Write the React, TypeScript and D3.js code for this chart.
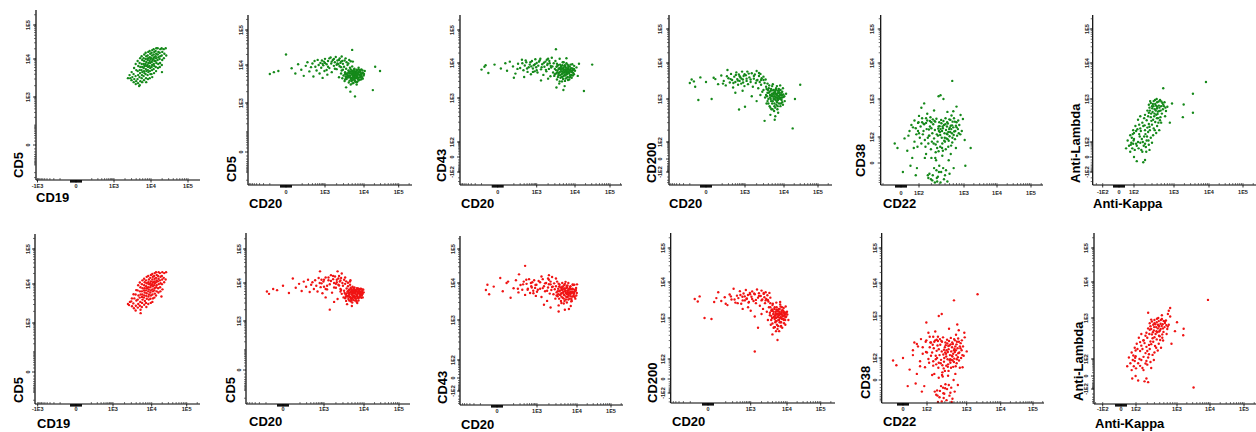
import React from "react";
import * as d3 from "d3";

// axis tick values and the labels printed under them
const ticksA = [-1000, 0, 1000, 10000, 100000];
const labelsA = ["-1E3", "0", "1E3", "1E4", "1E5"];
const ticksB = [0, 1000, 10000, 100000];
const labelsB = ["0", "1E3", "1E4", "1E5"];
const ticksC = [-100, 0, 100, 1000, 10000, 100000];
const labelsC = ["-1E2", "0", "1E2", "1E3", "1E4", "1E5"];
const ticksD = [0, 100, 1000, 10000, 100000];
const labelsD = ["0", "1E2", "1E3", "1E4", "1E5"];

// events, [x, y] fluorescence, top row (green)
const cd19Cd5Green = [
  [2650,3790],[2780,3160],[3020,4550],[3150,3360],[3000,2800],[3520,5800],[3400,4030],[3560,2980],[3430,2480],
  [3880,7390],[4020,5130],[3850,3570],[3990,2630],[3900,2200],[4380,8860],[4560,6550],[4400,4830],[4520,3790],[4350,2980],[4480,2330],
  [5120,10600],[4950,7850],[5150,6160],[4980,5130],[5080,4280],[4920,3360],[5180,2630],[5000,2070],
  [5600,12000],[5820,9420],[5650,7390],[5790,6160],[5580,5130],[5850,4550],[5700,3790],[5620,3160],[5800,2480],
  [6600,13500],[6350,10600],[6550,8860],[6400,7390],[6620,6550],[6380,5800],[6500,4830],[6650,4280],[6330,3570],[6480,2800],
  [7200,15300],[7450,12000],[7250,10000],[7480,8350],[7150,7390],[7400,6550],[7280,5450],[7500,4830],[7180,4030],[7350,3160],[7430,2480],
  [8450,16200],[8150,12700],[8380,10600],[8200,9420],[8500,7850],[8100,6950],[8350,6160],[8250,5130],[8480,4550],[8120,3790],[8300,2980],
  [9200,17300],[9550,14300],[9300,11300],[9600,10000],[9250,8860],[9480,7850],[9150,6550],[9520,5800],[9350,4830],[9600,4030],[9250,3160],
  [10800,18300],[10400,15300],[10700,12700],[10350,10600],[10850,9420],[10500,8350],[10750,6950],[10420,6160],[10650,5130],[10350,4030],[10800,3360],
  [11800,19500],[12250,16200],[11850,13500],[12150,11300],[11750,10000],[12300,8860],[11900,7390],[12200,6550],[11800,5450],[12100,4280],
  [13900,20700],[13300,17300],[13800,14300],[13400,12000],[13750,10600],[13350,8860],[13950,7850],[13500,6160],[13700,4830],
  [15200,20700],[15800,16200],[15300,13500],[15900,11300],[15100,9420],[15700,7390],[15400,5800],
  [17900,19500],[17200,15300],[17800,12000],[17100,10000],[17600,7850],[17300,6160],
  [19400,20700],[20200,16200],[19500,12700],[20100,9420],[19600,6950],
  [22000,19500],[23000,14300],[22300,10600],[25000,20700],[25800,12700],
  [2400,3160],[4800,1950],[19800,4550],
];
const cd20Cd5Green = [
  [-100,5800],[-60,6500],[-30,7000],[0,20000],[20,8200],[40,6000],[60,10500],[90,7500],[120,5200],[150,9500],
  [180,12000],[220,6800],[260,8800],[300,11000],[330,5000],[370,13000],[400,9000],[450,7200],[500,14000],[550,10000],
  [600,6000],[650,11500],[700,8500],[750,13500],[800,4600],[850,9800],[900,12500],[950,7000],[1000,15000],[1100,10500],
  [1150,5600],[1200,13000],[1300,8300],[1400,16500],[1450,11000],[1500,6500],[1600,14000],[1700,9500],[1800,12000],[1900,17000],
  [2000,7800],[2100,13500],[2200,10500],[2300,4800],[2400,15500],[2500,11500],[2600,8800],[2700,17500],[2800,13000],[2600,6000],
  [2800,4500],[2900,7500],[3000,5300],[3100,9000],[3200,3800],[3300,6500],[3400,5000],[3500,8000],[3600,4300],[3700,6000],
  [3800,10000],[3900,5400],[4000,7200],[4100,3500],[4200,4800],[4300,6400],[4400,8500],[4500,5200],[4600,3100],[4700,6800],
  [4800,4500],[4900,5800],[5000,9200],[5100,4000],[5200,7000],[5300,5500],[5400,3400],[5500,6200],[5600,4800],[5700,8000],
  [5800,5100],[5900,3800],[6000,6600],[6200,4500],[6400,7500],[6500,5400],[6700,3600],[6900,6000],[7100,4700],[7300,8500],
  [7500,5600],[7800,4100],[8000,6800],[8300,5000],[8600,7600],[9000,4600],[9400,6200],[9800,5300],[10500,7000],[3500,2600],
  [4500,2000],[5200,12500],[4200,14000],[21000,9000],[29000,7000],[18000,2200],[5900,1500],[5000,27000],
  [4100,5100],[4400,6000],[4700,4300],[5000,5600],[5300,6600],[5600,4200],[5900,5500],[6200,6100],[6600,4900],[7000,5800],
  [4300,3900],[4800,6900],[5500,7600],[6300,3600],[6800,7200],[7600,6400],[8200,5600],[8800,6000],[3600,5600],[3900,4700],
  [4600,7700],[5200,4600],[5800,6900],[6500,3100],[7200,3900],[7900,7400],[8500,4200],[9200,7200],[10000,5800],[3300,4200],
  [1200,9000],[1500,12500],[1800,8000],[2100,11000],[2400,9300],[2700,7200],[1000,11500],[1300,15500],[1700,14800],[2000,10200],
  [2300,14000],[2600,12500],[2900,10800],[3200,13500],[3600,12000],[4000,11000],[4600,12800],[3400,15500],[1100,7400],[800,10800],
  [3300,5800],[3700,4900],[4000,6300],[4300,5300],[4600,4600],[4900,6100],[5200,5000],[5500,5800],[5800,4400],[6100,5900],
  [6400,6800],[6700,5200],[7000,4300],[7400,6600],[7800,5300],[8200,6300],[8700,5100],[3500,4600],[4200,6800],[4800,3800],
  [5400,7000],[6000,3700],[6600,6300],[7200,7600],[7900,4700],[8600,5800],[9300,4400],[5100,3300],[5700,6400],[6300,4700],
];
const cd20Cd43Green = [
  [-100,6500],[-70,7800],[-40,5200],[-10,9000],[10,7000],[40,6000],[60,11000],[90,8000],[120,5000],[160,9500],
  [200,7200],[240,12500],[280,6200],[320,8500],[370,10500],[420,5600],[470,7600],[520,9000],[580,4800],[640,11500],
  [700,7000],[760,8600],[820,5800],[880,13000],[100,3800],[300,4000],[950,7600],[1000,10000],[1050,5400],[1100,8400],
  [1200,12000],[1300,6600],[1400,9200],[1500,4600],[1600,7800],[1700,11000],[1800,5800],[1900,8800],[2000,13500],[2100,6800],
  [2200,9800],[2300,4200],[2400,7400],[2500,14500],[1300,3200],[2000,3600],[2600,8000],[2700,5400],[2800,9800],[2900,4300],
  [3000,6800],[3100,11500],[3200,5000],[3300,7800],[3400,3400],[3500,6000],[3600,8800],[3700,4600],[3800,7000],[3900,2600],
  [4000,5500],[4100,9000],[4200,3800],[4300,6400],[4400,7800],[4500,4800],[4600,3000],[4700,5800],[4800,10500],[4900,6900],
  [5000,4200],[5200,5300],[5300,8200],[5400,2200],[5600,6300],[5700,3600],[5800,7300],[6000,4700],[6200,5800],[6400,9000],
  [6600,3300],[6800,6700],[7000,5000],[7300,7900],[7600,4100],[7900,6000],[8200,3800],[8600,7000],[9000,5200],[9500,8300],
  [10000,6000],[11000,7500],[3300,2000],[5000,1700],[6000,14000],[4000,13500],[31000,9000],[18000,1600],[3200,26000],[12000,4300],
  [13000,9500],
  [3200,6300],[3500,8200],[3800,5200],[4100,7200],[4400,5800],[4700,8600],[5000,6300],[5300,4600],[5600,7800],[5900,5200],
  [6200,6600],[6500,4000],[6800,8400],[7200,5500],[7600,6800],[8000,4600],[8500,9200],[9000,6500],[3000,4800],[3400,9500],
  [4000,3000],[4600,4000],[5100,10500],[5500,3100],[6000,9800],[6600,5600],[7100,3400],[7700,9000],[8300,5800],[9400,4800],
  [150,6800],[250,9800],[400,7000],[550,10500],[700,5600],[850,9200],[1000,6200],[1150,11000],[1350,7600],[1550,10200],
  [1750,6400],[1950,9600],[2150,11500],[2350,8200],[600,8000],[-60,8600],[30,9800],[350,12000],[1250,13500],[1850,12500],
  [3400,5300],[3800,6600],[4100,4500],[4400,6900],[4700,5100],[5000,7400],[5300,5700],[5600,4400],[5900,6400],[6200,4900],
  [6500,7000],[6800,5300],[7100,6100],[7500,4500],[7900,7100],[8400,5500],[8900,6300],[3600,4000],[4300,8200],[4900,3500],
  [5500,8600],[6100,3800],[6700,7700],[7300,3900],[8000,5900],[8800,4400],[9400,6800],[5200,6600],[5800,5700],[6400,5900],
];
const cd20Cd200Green = [
  [-100,2800],[-80,3500],[-50,2200],[-20,4000],[0,3000],[20,1000],[-30,950],[40,3600],[60,2600],[90,4500],
  [120,3200],[150,2400],[180,6400],[200,3800],[230,2900],[260,5000],[290,3400],[320,2100],[360,4200],[400,3000],
  [440,5500],[480,3600],[520,2500],[560,4800],[600,3200],[650,4000],[700,2700],[760,5800],[820,3500],[880,4400],
  [950,2300],[570,590],[1000,680],[400,1500],[800,1700],[1050,4600],[1100,3200],[1150,5800],[1200,2600],[1300,4000],
  [1400,3000],[1500,5200],[1600,2200],[1700,3700],[1800,4800],[1900,2800],[2000,6000],[2100,3400],[2200,2000],[2300,4400],
  [2400,3000],[2500,5000],[2600,2500],[2700,3800],[2800,1600],[3000,4200],[3200,2800],[3400,3500],[1500,1200],[2000,900],
  [2500,1300],[3000,1800],[3300,1100],[3500,2200],[3600,800],[3800,1500],[4000,1000],[4100,2000],[4300,700],[4400,1300],
  [4600,1700],[4700,900],[4900,1200],[5000,2300],[5100,600],[5300,1400],[5400,1000],[5500,1800],[5700,800],[5800,1200],
  [5900,1500],[6000,650],[6200,1100],[6300,2000],[6500,900],[6600,1400],[6800,1000],[7000,1700],[7100,500],[7300,1200],
  [7500,800],[7700,1500],[7900,1050],[8100,700],[8400,1300],[8700,950],[9000,1600],[9400,750],[9800,1150],[10500,900],
  [11500,1400],[4500,450],[6000,420],[3200,330],[5800,350],[3800,2700],[8000,2400],[18000,220],[30000,2500],[21000,1000],
  [3500,1300],[3800,900],[4100,1500],[4400,1100],[4700,1900],[5000,800],[5200,1200],[5500,1500],[5800,1000],[6100,1700],
  [6400,750],[6700,1250],[7000,950],[7300,1500],[7600,1100],[8000,1350],[8500,1100],[9000,850],[9600,1350],[10200,1200],
  [4800,600],[5600,550],[6800,600],[8200,1800],[4200,2400],[5200,2600],[6600,2300],[7400,1900],[9400,2000],[3600,1900],
  [-60,3100],[30,3900],[110,2700],[170,4300],[250,3600],[330,2800],[420,4700],[510,3300],[610,4300],[720,3700],
  [840,2900],[960,4900],[1100,3700],[1250,5100],[1400,3500],[1700,4400],[2000,3300],[2300,5300],[2600,3400],[3000,3400],
  [3700,1200],[4000,800],[4300,1600],[4600,1000],[4900,1400],[5200,900],[5500,1150],[5800,1600],[6100,950],[6400,1300],
  [6700,850],[7000,1450],[7300,1000],[7700,1250],[8100,1000],[8600,1500],[9100,1100],[3900,1800],[4500,650],[5100,1750],
  [5700,700],[6300,1850],[6900,700],[7500,1700],[8300,800],[9000,1300],[4700,1250],[5400,1350],[6000,1400],[6600,1100],
];
const cd22Cd38Green = [
  [150,250],[200,180],[260,320],[310,140],[380,220],[450,120],[520,300],[600,190],[700,260],[180,110],
  [230,90],[290,200],[340,95],[420,160],[480,75],[560,130],[650,85],[750,170],[130,150],[170,60],
  [210,130],[250,55],[300,260],[360,180],[400,70],[460,240],[540,50],[620,330],[720,110],[800,220],
  [140,80],[190,350],[240,160],[280,110],[330,300],[390,130],[440,200],[500,105],[580,270],[660,150],
  [110,200],[160,290],[220,230],[270,40],[320,170],[370,280],[430,90],[490,170],[550,390],[610,115],
  [680,210],[780,130],[125,120],[205,70],[245,270],[295,150],[350,60],[410,330],[470,140],[530,210],
  [150,20],[200,10],[250,25],[300,-5],[350,15],[420,-15],[480,5],[180,-25],[230,-10],[280,-35],
  [330,-20],[380,-45],[270,-55],[210,-50],[320,-60],[400,-30],[450,-55],[260,-15],[360,30],[500,-25],
  [170,-40],[240,-60],[290,28],[530,20],[-20,60],[-10,40],[10,90],[20,30],[30,150],[45,10],
  [60,70],[75,120],[85,45],[50,190],[5,-20],[95,260],[70,-30],[570,3200],[290,1200],[320,1270],
  [370,1000],[115,610],[135,780],[700,650],[950,316],[1600,40],[1100,-5],[900,150],[1050,80],[850,400],
  [600,500],[450,480],[230,520],[160,430],[100,380],
  [135,230],[175,165],[215,310],[265,120],[305,205],[345,150],[395,95],[445,260],[505,185],[565,215],
  [625,145],[705,190],[165,95],[225,60],[285,175],[335,245],[385,75],[435,125],[495,310],[545,170],
  [185,200],[235,280],[275,70],[315,115],[355,200],[405,230],[455,85],[515,140],[575,95],[645,270],
  [195,35],[245,10],[295,-20],[345,40],[265,-40],[315,45],[215,-30],[365,-10],[415,35],[255,5],
  [120,260],[145,45],[105,95],[90,150],[760,290],[840,120],[570,65],[680,40],[610,-10],[470,45],
  [25,110],[40,220],[55,40],[70,180],[80,-10],[100,130],[115,60],[130,240],[140,10],[155,170],
  [165,-30],[175,110],[185,280],[195,-45],[120,330],[60,290],[35,-5],[90,250],[150,330],[200,260],
];
const kappaLambdaGreen = [
  [250,500],[300,700],[350,600],[400,850],[280,400],[450,550],[330,900],[380,450],[500,700],[260,650],
  [420,380],[310,520],[360,780],[470,950],[290,330],[550,600],[340,420],[400,680],[230,560],[520,480],
  [280,820],[430,300],[370,560],[600,850],[320,350],[480,400],[250,750],[390,1000],[560,750],[200,450],
  [650,550],[300,270],[440,720],[360,310],[700,680],[220,340],[500,300],[410,470],[270,900],[620,420],
  [60,150],[100,120],[150,90],[200,200],[120,60],[180,250],[90,200],[140,160],[220,110],[250,70],
  [80,40],[160,30],[110,250],[190,140],[130,100],[210,50],[70,90],[240,180],[170,20],[100,0],
  [50,60],[150,220],[280,130],[300,90],[40,110],[200,-10],[230,230],[120,-15],[260,30],[180,-20],
  [350,200],[90,80],[140,270],[60,20],[320,150],[200,80],[400,250],[30,40],[100,170],[250,280],
  [170,300],[130,350],[260,240],[330,220],[190,380],[450,200],[380,170],[150,420],[560,2000],[8200,3000],
  [3500,1400],[3500,500],[1800,400],[1900,760],[900,800],[800,300],
  [265,560],[315,780],[345,480],[395,620],[435,880],[485,560],[535,820],[305,630],[375,720],[415,530],
  [455,650],[505,880],[285,480],[355,950],[325,700],[580,700],[240,420],[470,340],[395,380],[630,650],
  [75,130],[115,190],[165,120],[205,160],[135,40],[185,60],[95,110],[155,190],[225,140],[105,30],
  [65,70],[175,100],[265,200],[125,210],[215,20],[145,140],[85,160],[245,110],[195,260],[115,80],
];

// bottom row (red)
const cd19Cd5Red = [
  [2750,3500],[2620,2900],[3100,4300],[2980,3600],[3120,2700],[3420,5500],[3580,4300],[3380,3200],[3500,2400],
  [4000,7000],[3860,5400],[4050,3800],[3920,2800],[3870,2100],[4500,9300],[4330,6900],[4560,5100],[4380,4000],[4520,3100],[4400,2500],
  [4960,11000],[5150,8300],[4990,6500],[5200,5400],[4930,4500],[5100,3500],[4970,2800],[5170,2200],
  [5780,12700],[5620,9900],[5830,7800],[5600,6500],[5760,5400],[5640,4700],[5820,4000],[5680,3300],[5590,2600],
  [6380,14200],[6620,11200],[6420,9300],[6580,7800],[6350,6900],[6600,6100],[6450,5100],[6300,4500],[6680,3700],[6430,2950],
  [7450,16000],[7150,12700],[7420,10500],[7200,8800],[7500,7800],[7180,6900],[7380,5800],[7240,5000],[7470,4200],[7160,3300],[7300,2600],
  [8150,17000],[8480,13400],[8200,11200],[8450,9900],[8130,8300],[8400,7300],[8180,6500],[8500,5400],[8250,4800],[8420,4000],[8160,3100],
  [9550,18200],[9200,15000],[9500,11900],[9250,10500],[9580,9300],[9180,8300],[9450,6900],[9220,6100],[9530,5100],[9280,4200],[9450,3300],
  [10400,19300],[10800,16100],[10450,13400],[10850,11200],[10380,9900],[10700,8800],[10420,7300],[10780,6500],[10500,5400],[10820,4300],[10450,3500],
  [12200,20500],[11750,17000],[12150,14200],[11850,11900],[12250,10500],[11800,9300],[12100,7800],[11850,6900],[12300,5700],[11900,4500],
  [13300,21800],[13900,18200],[13400,15000],[13850,12700],[13350,11200],[13800,9300],[13450,8300],[13900,6500],[13300,5100],
  [15800,21800],[15200,17000],[15700,14200],[15100,11900],[15800,9900],[15300,7800],[15600,6100],
  [17200,20500],[17800,16100],[17300,12700],[17900,10500],[17400,8300],[17700,6500],
  [20100,21800],[19500,17000],[20000,13400],[19600,9900],[20300,7300],
  [22800,20500],[22100,15000],[22700,11200],[25800,21800],[25000,13400],
  [2450,3100],[5200,1800],[19000,4800],
];
const cd20Cd5Red = [
  [-90,6000],[-70,5200],[-40,7000],[-20,6500],[0,8500],[20,5500],[40,13500],[60,7500],[90,9500],[120,6200],
  [150,11000],[190,8000],[230,12500],[270,5800],[310,9000],[350,10500],[400,7000],[450,12000],[500,8500],[560,6000],
  [620,14000],[680,10000],[740,7800],[800,12500],[870,5400],[700,22000],[950,11000],[1000,8000],[1100,14500],[1200,6800],
  [1300,12000],[1400,9300],[1500,17000],[1600,5600],[1700,13000],[1800,10000],[1900,15500],[2000,7500],[2100,12500],[2200,22000],
  [2300,9000],[2400,16000],[2500,11000],[2600,6000],[2700,14000],[2800,19000],[1400,2000],[1800,3200],[2200,3800],[1100,4200],
  [2600,7000],[2800,5200],[3000,8500],[3100,4200],[3200,6300],[3400,9500],[3500,5000],[3600,3400],[3700,7200],[3800,4600],
  [3900,6000],[4000,8200],[4100,3800],[4200,5400],[4300,6800],[4400,4300],[4500,9000],[4600,5800],[4700,3300],[4800,7000],
  [4900,5000],[5000,6200],[5100,4000],[5200,8000],[5300,5500],[5400,3600],[5500,6800],[5600,4700],[5700,5900],[5800,7600],
  [5900,4200],[6000,5300],[6200,6500],[6300,3900],[6500,5000],[6700,7300],[6900,4500],[7100,6000],[7300,3500],[7500,5400],
  [7700,6800],[7900,4300],[8100,5700],[8400,7100],[8700,4800],[9000,6200],[9300,5200],[9600,6700],[3800,2800],[5000,2500],
  [6800,3000],[4500,11000],
  [4200,4600],[4500,5600],[4800,4000],[5100,5300],[5400,6200],[5700,4300],[6000,5700],[6300,6300],[6600,4700],[7000,5500],
  [4300,3500],[4900,6500],[5600,7300],[6400,3500],[6900,6900],[7600,6100],[8200,5100],[8900,5600],[3700,5300],[4000,4400],
  [4700,7500],[5300,4400],[5900,6600],[6600,3200],[7300,4000],[8000,7000],[8600,4100],[9200,6800],[9800,5700],[3400,4000],
  [1200,8500],[1500,11500],[1800,7600],[2100,10500],[2400,8600],[2700,6600],[1000,12500],[1300,14500],[1700,16000],[2000,9500],
  [2300,13500],[2600,11800],[2900,10000],[3200,12500],[3600,11200],[4000,10200],[4600,12000],[3400,14500],[1100,7000],[800,9800],
  [3300,5500],[3700,4600],[4000,6000],[4300,5000],[4600,4300],[4900,5800],[5200,4700],[5500,5500],[5800,4100],[6100,5600],
  [6400,6400],[6700,4900],[7000,4100],[7400,6200],[7800,5000],[8200,6000],[8700,4800],[3500,4300],[4200,6500],[4800,3600],
  [5400,6700],[6000,3500],[6600,6000],[7200,7200],[7900,4500],[8600,5500],[9300,4200],[5100,3100],[5700,6100],[6300,4400],
];
const cd20Cd43Red = [
  [-50,6500],[-30,5000],[-10,8000],[10,14000],[20,6000],[40,10000],[70,4000],[100,7200],[130,12000],[170,5600],
  [210,8800],[250,6600],[290,11000],[330,4800],[180,18000],[380,9500],[430,7000],[480,13000],[530,5400],[590,8200],
  [650,10500],[710,6200],[770,12000],[840,7400],[900,4500],[330,32000],[950,9000],[1000,5800],[1100,11500],[1200,7000],
  [1300,4200],[1400,13000],[1500,8200],[1600,6000],[1700,10000],[1800,3300],[1900,7600],[2000,12500],[2100,5200],[2200,9200],
  [2300,6500],[2400,15000],[2500,8000],[1500,2600],[2200,2200],[2000,17000],[2600,5000],[2700,9800],[2800,6800],[2900,3800],
  [3000,8200],[3100,5600],[3200,11000],[3300,4400],[3400,7000],[3500,2500],[3600,6000],[3700,9000],[3800,4800],[3900,7600],
  [4000,3300],[4100,5400],[4200,6600],[4300,10000],[4400,4000],[4500,8000],[4600,5800],[4700,2800],[4800,7000],[4900,4700],
  [5000,9500],[5200,6200],[5300,3600],[5500,7400],[5600,5100],[5800,8600],[5900,4200],[6100,6500],[6300,2000],[6500,5600],
  [6700,7800],[6900,4400],[7100,6800],[7400,3300],[7700,5800],[8000,8800],[8300,4800],[8700,6600],[9100,3800],[9500,7400],
  [9900,5400],[10000,9200],[3500,1700],[5000,1900],[7000,2400],[3000,13500],
  [3300,6000],[3600,8000],[3900,5000],[4200,7300],[4500,5500],[4800,8800],[5100,6000],[5400,4300],[5700,7600],[6000,5000],
  [6300,6800],[6600,3800],[6900,8200],[7300,5300],[7700,7000],[8100,4400],[8600,9000],[9200,6200],[3100,4600],[3500,9600],
  [4100,2900],[4700,3800],[5200,10800],[5600,3000],[6100,10000],[6700,5400],[7200,3200],[7800,9200],[8400,5600],[9600,4600],
  [160,7000],[270,9200],[420,6600],[570,10000],[720,5300],[870,8800],[1050,6600],[1200,10500],[1400,7300],[1600,9800],
  [1800,6200],[2000,9300],[2200,11000],[2400,7800],[620,7600],[-40,9000],[50,11000],[370,12500],[1300,15500],[1900,13500],
  [3400,5000],[3800,6300],[4100,4300],[4400,6600],[4700,4900],[5000,7100],[5300,5400],[5600,4200],[5900,6100],[6200,4700],
  [6500,6700],[6800,5100],[7100,5800],[7500,4300],[7900,6800],[8400,5300],[8900,6000],[3600,3800],[4300,7900],[4900,3300],
  [5500,8300],[6100,3600],[6700,7400],[7300,3700],[8000,5600],[8800,4200],[9400,6500],[5200,6300],[5800,5400],[6400,5600],
];
const cd20Cd200Red = [
  [-60,3400],[-30,4000],[-10,1000],[10,950],[20,2800],[40,5200],[60,3000],[90,3800],[120,2300],[150,4500],
  [180,3300],[220,6500],[260,2700],[300,4200],[340,3600],[390,5600],[440,2500],[490,3900],[540,4800],[600,3100],
  [660,6000],[720,3500],[790,4400],[860,2800],[930,5000],[500,1800],[800,2000],[1000,1600],[1050,3900],[1100,5500],
  [1200,3000],[1300,4600],[1400,2600],[1500,6200],[1600,3700],[1700,4900],[1800,2200],[1900,4100],[2000,5800],[2100,3300],
  [2200,1800],[2300,4700],[2400,3800],[2500,2600],[2600,5200],[2700,3400],[2900,4300],[3100,2900],[3300,5000],[3500,3700],
  [1300,1100],[1600,600],[2000,1300],[2800,1500],[3000,900],[3200,2000],[3400,1200],[3600,700],[3700,1600],[3900,1000],
  [4000,2300],[4200,1300],[4300,600],[4500,1800],[4600,1100],[4800,800],[4900,1500],[5000,1000],[5200,2000],[5300,700],
  [5500,1300],[5600,1700],[5800,900],[6000,1200],[6100,500],[6300,1500],[6500,1000],[6700,2100],[6900,800],[7100,1300],
  [7400,600],[7600,1100],[7900,1600],[8200,900],[8600,1300],[9000,700],[9500,1100],[10000,1500],[11000,900],[4000,420],
  [5000,500],[3500,2600],[6500,2800],[5500,310],[1300,160],
  [3400,1400],[3700,900],[4000,1600],[4300,1050],[4600,2000],[4900,850],[5100,1250],[5400,1550],[5700,1050],[6000,1800],
  [6300,800],[6600,1300],[6900,1000],[7200,1600],[7500,1150],[7900,1400],[8400,1150],[8900,900],[9500,1400],[10200,1250],
  [4700,620],[5500,560],[6700,640],[8100,1900],[4100,2500],[5100,2700],[6500,2400],[7300,2000],[9200,2100],[3500,2000],
  [-40,2900],[30,3600],[100,2500],[170,4000],[240,3300],[320,2600],[410,4400],[500,3100],[600,4000],[700,3400],
  [830,2700],[950,4600],[1100,3400],[1250,4800],[1400,3200],[1700,4100],[2000,3100],[2300,5000],[2600,3100],[3000,3200],
  [3700,1150],[4000,750],[4300,1500],[4600,950],[4900,1350],[5200,850],[5500,1100],[5800,1550],[6100,900],[6400,1250],
  [6700,800],[7000,1400],[7300,950],[7700,1200],[8100,950],[8600,1450],[9100,1050],[3900,1750],[4500,620],[5100,1700],
  [5700,660],[6300,1800],[6900,660],[7500,1650],[8300,760],[9000,1250],[4700,1200],[5400,1300],[6000,1350],[6600,1050],
];
const cd22Cd38Red = [
  [160,260],[210,170],[270,330],[320,130],[390,210],[460,110],[530,280],[610,180],[720,240],[190,100],
  [240,85],[300,190],[350,90],[430,150],[500,70],[570,120],[660,80],[760,160],[140,140],[180,55],
  [220,120],[260,50],[310,250],[370,170],[410,65],[470,230],[550,45],[630,310],[740,100],[820,200],
  [150,75],[200,340],[250,150],[290,100],[340,290],[400,120],[450,190],[510,95],[590,260],[670,140],
  [120,190],[170,280],[230,220],[280,35],[330,160],[380,270],[440,85],[500,160],[560,380],[620,105],
  [690,200],[790,120],[130,115],[210,65],[255,260],[305,140],[360,55],[420,320],[480,130],[540,200],
  [160,15],[210,5],[260,20],[310,-10],[360,10],[430,-20],[490,0],[190,-30],[240,-15],[290,-45],
  [340,-25],[390,-55],[280,-70],[220,-65],[330,-85],[410,-40],[460,-75],[270,-20],[370,25],[520,-35],
  [180,-50],[250,-95],[300,25],[540,15],[200,-100],[440,-100],[-25,80],[-15,50],[0,100],[15,30],
  [25,160],[40,15],[55,75],[70,130],[85,40],[45,200],[10,-15],[95,280],[65,-35],[30,250],
  [2100,4600],[500,3000],[250,1150],[210,1000],[95,720],[600,650],[900,330],[1000,150],[800,40],[880,420],
  [650,480],[380,520],[170,450],[110,420],
  [145,220],[185,155],[225,300],[275,125],[315,215],[355,145],[405,90],[455,250],[515,175],[575,225],
  [635,135],[715,180],[175,90],[235,62],[285,165],[345,235],[395,80],[445,115],[505,300],[555,160],
  [195,210],[245,270],[285,72],[325,110],[365,205],[415,225],[465,80],[525,145],[585,90],[655,260],
  [205,38],[255,12],[305,-22],[355,42],[275,-42],[325,48],[225,-32],[375,-12],[425,38],[265,8],
  [125,250],[150,48],[110,92],[92,145],[770,280],[850,115],[580,62],[690,38],[620,-12],[480,42],
  [25,120],[40,230],[55,45],[70,190],[80,-15],[100,140],[115,65],[130,250],[140,12],[155,180],
  [165,-35],[175,115],[185,290],[195,-55],[120,340],[60,300],[35,-8],[90,260],[150,340],[200,270],
];
const kappaLambdaRed = [
  [230,540],[280,700],[330,620],[380,850],[260,420],[420,560],[300,900],[350,470],[470,720],[240,650],
  [400,380],[290,520],[340,800],[450,950],[270,340],[520,620],[320,430],[380,680],[210,580],[490,480],
  [260,830],[410,310],[360,580],[560,880],[300,360],[460,420],[230,760],[370,1000],[530,770],[190,460],
  [600,560],[280,280],[420,740],[340,320],[650,700],[200,350],[480,300],[390,490],[250,920],[580,430],
  [700,1100],[620,1300],[450,1200],[160,300],[700,1900],[650,1600],
  [55,150],[95,120],[140,90],[190,210],[115,60],[170,260],[85,200],[130,165],[210,110],[240,70],
  [75,40],[150,30],[105,250],[180,145],[125,100],[200,50],[65,90],[230,185],[160,20],[95,0],
  [45,60],[140,225],[270,130],[290,90],[35,110],[190,-10],[220,235],[115,-20],[250,30],[170,-25],
  [330,200],[85,80],[130,275],[55,20],[300,150],[190,80],[380,250],[25,40],[95,170],[240,285],
  [160,305],[120,350],[250,245],[310,220],[180,390],[430,200],[360,170],[140,430],[60,-10],[210,-30],
  [8700,3200],[1600,570],[1550,400],[3200,-80],[210,1400],[900,500],[750,250],[1000,800],
  [250,560],[300,760],[335,500],[385,640],[425,900],[475,580],[525,840],[295,620],[365,700],[405,520],
  [445,660],[495,860],[275,470],[345,960],[315,720],[570,690],[225,430],[460,350],[385,390],[615,640],
  [70,125],[110,185],[160,115],[200,165],[130,42],[180,58],[90,108],[150,185],[220,135],[100,28],
];

const GREEN = "#15891a";
const RED = "#f01414";

// frame of each panel on the page: axis lines and where the printed ticks sit
const layouts = [
  { left: 36, top: 10, bottom: 180, right: 200, xt: [37.5, 76, 114, 151, 188], yt: [145, 97, 59, 25], xLabY: 186, yLabX: 28, xTitleX: 36, xTitleY: 202, yTitleX: 18, yTitleB: 178 },
  { left: 248, top: 15, bottom: 185, right: 412, xt: [286, 325, 364, 398.7], yt: [152, 103, 65, 30], xLabY: 192, yLabX: 241.5, xTitleX: 249, xTitleY: 207.5, yTitleX: 231, yTitleB: 182 },
  { left: 460, top: 15, bottom: 185, right: 622, xt: [497.7, 536.7, 575, 610], yt: [172, 157, 142, 98, 63, 30], xLabY: 192, yLabX: 452, xTitleX: 461, xTitleY: 207.5, yTitleX: 441, yTitleB: 182 },
  { left: 669, top: 15, bottom: 185, right: 832, xt: [706, 745, 784, 818], yt: [172, 159, 142, 99, 63, 29], xLabY: 192, yLabX: 660, xTitleX: 669, xTitleY: 207.5, yTitleX: 651, yTitleB: 183 },
  { left: 880.7, top: 15, bottom: 185, right: 1043, xt: [901, 919, 964, 997, 1031], yt: [163, 137, 99, 63, 29], xLabY: 193, yLabX: 872, xTitleX: 883, xTitleY: 207.5, yTitleX: 860, yTitleB: 177 },
  { left: 1092.7, top: 15, bottom: 185, right: 1256, xt: [1102.7, 1119, 1134, 1174, 1209, 1243], yt: [172, 157, 142, 99, 63, 29], xLabY: 192, yLabX: 1086.7, xTitleX: 1093, xTitleY: 207.5, yTitleX: 1075, yTitleB: 183 },
  { left: 35, top: 234, bottom: 404, right: 200, xt: [37.7, 76, 113, 151.7, 186.7], yt: [372, 323, 284, 249], xLabY: 409, yLabX: 28, xTitleX: 37, xTitleY: 427.5, yTitleX: 18, yTitleB: 403 },
  { left: 246, top: 233, bottom: 404, right: 410, xt: [283, 324, 364, 399], yt: [370, 321, 283, 249], xLabY: 409, yLabX: 239, xTitleX: 249, xTitleY: 425.5, yTitleX: 230, yTitleB: 403 },
  { left: 460, top: 236, bottom: 405, right: 623, xt: [497, 537, 577, 611], yt: [391, 378, 360, 320, 283, 249], xLabY: 411, yLabX: 453, xTitleX: 461, xTitleY: 428.5, yTitleX: 442, yTitleB: 404 },
  { left: 670.7, top: 233, bottom: 403, right: 835, xt: [708, 750.7, 787, 820.7], yt: [393, 379, 359, 318, 282, 248], xLabY: 409, yLabX: 663, xTitleX: 672, xTitleY: 425.5, yTitleX: 652, yTitleB: 403 },
  { left: 881.7, top: 233, bottom: 403, right: 1044, xt: [903, 927, 966.7, 1000.7, 1033], yt: [380, 358, 316, 283, 248], xLabY: 409, yLabX: 875, xTitleX: 883, xTitleY: 425.5, yTitleX: 865, yTitleB: 399 },
  { left: 1094, top: 233, bottom: 404, right: 1256, xt: [1102.7, 1121, 1136, 1177, 1210, 1244], yt: [389, 376, 359, 318, 282, 248], xLabY: 409, yLabX: 1086, xTitleX: 1095, xTitleY: 427.5, yTitleX: 1078, yTitleB: 401 },
];

const panels = [
  { data: cd19Cd5Green, color: GREEN, xName: "CD19", yName: "CD5", xTicks: ticksA, xLabels: labelsA, yTicks: ticksB, yLabels: labelsB },
  { data: cd20Cd5Green, color: GREEN, xName: "CD20", yName: "CD5", xTicks: ticksB, xLabels: labelsB, yTicks: ticksB, yLabels: labelsB },
  { data: cd20Cd43Green, color: GREEN, xName: "CD20", yName: "CD43", xTicks: ticksB, xLabels: labelsB, yTicks: ticksC, yLabels: labelsC },
  { data: cd20Cd200Green, color: GREEN, xName: "CD20", yName: "CD200", xTicks: ticksB, xLabels: labelsB, yTicks: ticksC, yLabels: labelsC },
  { data: cd22Cd38Green, color: GREEN, xName: "CD22", yName: "CD38", xTicks: ticksD, xLabels: labelsD, yTicks: ticksD, yLabels: labelsD },
  { data: kappaLambdaGreen, color: GREEN, xName: "Anti-Kappa", yName: "Anti-Lambda", xTicks: ticksC, xLabels: labelsC, yTicks: ticksC, yLabels: labelsC },
  { data: cd19Cd5Red, color: RED, xName: "CD19", yName: "CD5", xTicks: ticksA, xLabels: labelsA, yTicks: ticksB, yLabels: labelsB },
  { data: cd20Cd5Red, color: RED, xName: "CD20", yName: "CD5", xTicks: ticksB, xLabels: labelsB, yTicks: ticksB, yLabels: labelsB },
  { data: cd20Cd43Red, color: RED, xName: "CD20", yName: "CD43", xTicks: ticksB, xLabels: labelsB, yTicks: ticksC, yLabels: labelsC },
  { data: cd20Cd200Red, color: RED, xName: "CD20", yName: "CD200", xTicks: ticksB, xLabels: labelsB, yTicks: ticksC, yLabels: labelsC },
  { data: cd22Cd38Red, color: RED, xName: "CD22", yName: "CD38", xTicks: ticksD, xLabels: labelsD, yTicks: ticksD, yLabels: labelsD },
  { data: kappaLambdaRed, color: RED, xName: "Anti-Kappa", yName: "Anti-Lambda", xTicks: ticksC, xLabels: labelsC, yTicks: ticksC, yLabels: labelsC },
];

// biexponential-like transform, then a piecewise linear map onto the printed ticks
const tf = d3.scaleSymlog().constant(30).domain([0, 100000]).range([0, 1]);

const minorVals: number[] = [];
for (let n = 1; n <= 5; n++) {
  for (let m = 2; m <= 9; m++) minorVals.push(m * 10 ** n, -m * 10 ** n);
  minorVals.push(10 ** n, -(10 ** n));
}

const FONT = "'Liberation Sans', Arial, sans-serif";

function Panel({ p, L, idx }: any) {
  const xs = d3.scaleLinear().domain(p.xTicks.map((v: number) => tf(v))).range(L.xt);
  const ys = d3.scaleLinear().domain(p.yTicks.map((v: number) => tf(v))).range(L.yt);
  const X = (v: number) => xs(tf(v));
  const Y = (v: number) => ys(tf(v));

  const xMinor = minorVals.filter((v) => Math.abs(v) >= 100).map(X).filter((px) => px > L.left + 1 && px < L.right - 1);
  const yMinor = minorVals.map(Y).filter((py) => py > L.top + 1 && py < L.bottom - 1);
  const clipId = `clip-${idx}`;

  return (
    <g>
      <clipPath id={clipId}>
        <rect x={L.left} y={L.top} width={L.right - L.left} height={L.bottom - L.top} />
      </clipPath>
      <g clipPath={`url(#${clipId})`}>
        {p.data.map((d: number[], i: number) => (
          <circle key={i} cx={X(d[0])} cy={Y(d[1])} r={1.2} fill={p.color} />
        ))}
      </g>

      {/* axes */}
      <line x1={L.left} x2={L.left} y1={L.top} y2={L.bottom} stroke="#000" strokeWidth={1.2} />
      <line x1={L.left} x2={L.right} y1={L.bottom} y2={L.bottom} stroke="#000" strokeWidth={1.2} />
      {xMinor.map((px, i) => (
        <line key={"xm" + i} x1={px} x2={px} y1={L.bottom} y2={L.bottom - 2} stroke="#333" strokeWidth={0.7} />
      ))}
      {yMinor.map((py, i) => (
        <line key={"ym" + i} x1={L.left} x2={L.left - 2} y1={py} y2={py} stroke="#333" strokeWidth={0.7} />
      ))}
      <rect x={X(0) - 6} y={L.bottom} width={12} height={2.6} fill="#111" />

      {p.xTicks.map((v: number, i: number) => (
        <g key={"xt" + i}>
          <line x1={X(v)} x2={X(v)} y1={L.bottom} y2={L.bottom + 2.5} stroke="#000" strokeWidth={0.8} />
          <text x={X(v)} y={L.xLabY} dy="0.35em" textAnchor="middle" fontSize={5.5} fontWeight="bold" fill="#222" fontFamily={FONT}>
            {p.xLabels[i]}
          </text>
        </g>
      ))}
      {p.yTicks.map((v: number, i: number) => (
        <g key={"yt" + i}>
          <line x1={L.left} x2={L.left - 3} y1={Y(v)} y2={Y(v)} stroke="#000" strokeWidth={0.8} />
          <text transform={`translate(${L.yLabX},${Y(v)}) rotate(-90)`} dy="0.35em" textAnchor="middle" fontSize={5.5} fontWeight="bold" fill="#222" fontFamily={FONT}>
            {p.yLabels[i]}
          </text>
        </g>
      ))}

      {/* axis titles */}
      <text x={L.xTitleX} y={L.xTitleY} fontSize={13} fontWeight="bold" fill="#000" fontFamily={FONT}>
        {p.xName}
      </text>
      <text transform={`translate(${L.yTitleX + 4.6},${L.yTitleB}) rotate(-90)`} textAnchor="start" fontSize={13} fontWeight="bold" fill="#000" fontFamily={FONT}>
        {p.yName}
      </text>
    </g>
  );
}

export default function App() {
  return (
    <svg
      width={1256}
      height={432}
      style={{ position: "absolute", left: 0, top: 0, background: "#fff" }}
    >
      <rect width={1256} height={432} fill="#fff" />
      {panels.map((p, i) => (
        <Panel key={i} p={p} L={layouts[i]} idx={i} />
      ))}
    </svg>
  );
}
